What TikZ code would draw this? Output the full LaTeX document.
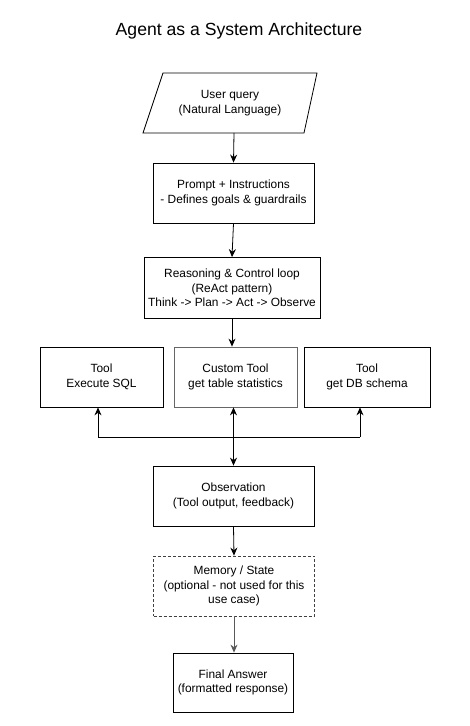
\documentclass[tikz,border=0pt]{standalone}
\usepackage{fontspec}
\setmainfont{Liberation Sans}
\usetikzlibrary{arrows.meta}
\begin{document}
\begin{tikzpicture}[x=1pt,y=-1pt,
  box/.style={draw=black,line width=0.8pt,minimum width=#1,minimum height=60pt,align=center,inner sep=2pt,font=\fontsize{11.9}{14.5}\selectfont},
  box/.default=161pt,
  txt/.style={align=center,font=\fontsize{11.9}{14.5}\selectfont},
  arr/.style={-{Stealth[length=8pt,width=7pt]},line width=0.8pt},
  darr/.style={{Stealth[length=8pt,width=7pt]}-{Stealth[length=8pt,width=7pt]},line width=0.8pt}]
\useasboundingbox (0,0) rectangle (470,726);
\fill[white] (0,0) rectangle (470,726);
\node[font=\fontsize{17.6}{20}\selectfont] (title) at (239,31) {Agent as a System Architecture};
% parallelogram
\draw[line width=0.8pt] (163,73) -- (317,73) -- (304,133) -- (143,133) -- cycle;
\node[txt] (q) at (230,103) {User query\\(Natural Language)};
\coordinate (qb) at (234,133);
\node[box] (p) at (233.5,193) {Prompt + Instructions\\- Defines goals \& guardrails};
\node[box=176pt,minimum height=61pt] (r) at (232,288) {Reasoning \& Control loop\\(ReAct pattern)\\Think -> Plan -> Act -> Observe};
\node[box=123pt] (t1) at (101.5,377) {Tool\\Execute SQL};
\node[box=123pt,draw=black!60] (t2) at (235.5,377) {Custom Tool\\get table statistics};
\node[box=126pt] (t3) at (367,377) {Tool\\get DB schema};
\node[box] (o) at (233.5,496) {Observation\\(Tool output, feedback)};
\node[box,dashed,draw=black!75,dash pattern=on 3pt off 2pt] (m) at (234,586) {Memory / State\\(optional - not used for this\\use case)};
\node[box=120pt,minimum height=59pt] (f) at (233,682.5) {Final Answer\\(formatted response)};
\coordinate (jl) at (98,437);
\coordinate (jr) at (360,437);
\draw[arr] (qb) -- (p.north);
\draw[arr] (p.south) -- (r.north);
\draw[arr] (r.south) -- (r.south |- t2.north);
\draw[darr] (t2.south -| o.north) -- (o.north);
\draw[line width=0.8pt] (jl) -- (jr);
\draw[arr] (jl) -- (jl |- t1.south);
\draw[arr] (jr) -- (jr |- t3.south);
\draw[arr] (o.south) -- (m.north);
\draw[arr,draw=black!65] (m.south) -- (m.south |- f.north);
\end{tikzpicture}
\end{document}
